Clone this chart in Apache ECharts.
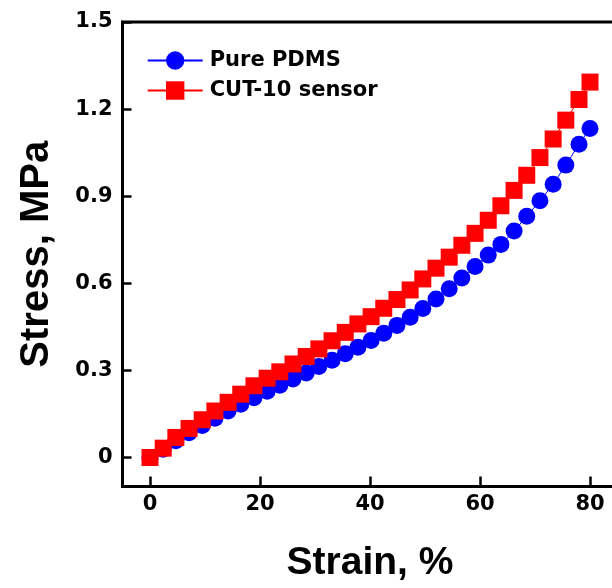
<!DOCTYPE html>
<html>
<head>
<meta charset="utf-8">
<script src="https://cdn.jsdelivr.net/npm/echarts@6/dist/echarts.min.js"></script>
<style>
html,body{margin:0;padding:0;background:#fff;}
#chart{width:612px;height:588px;}
</style>
</head>
<body>
<div id="chart"></div>
<script>
// Strain values (%)
var strain = [0, 2.4, 4.7, 7.1, 9.5, 11.8, 14.2, 16.5, 18.9, 21.3, 23.6, 26, 28.4, 30.7, 33.1, 35.5, 37.8, 40.2, 42.5, 44.9, 47.3, 49.6, 52, 54.4, 56.7, 59.1, 61.5, 63.8, 66.2, 68.5, 70.9, 73.3, 75.6, 78, 80];
// Stress (MPa), Pure PDMS
var pdmsStress = [0, 0.028, 0.058, 0.085, 0.110, 0.135, 0.160, 0.183, 0.206, 0.228, 0.249, 0.270, 0.291, 0.313, 0.335, 0.357, 0.380, 0.403, 0.428, 0.455, 0.483, 0.513, 0.546, 0.581, 0.618, 0.658, 0.697, 0.734, 0.780, 0.831, 0.884, 0.941, 1.007, 1.079, 1.133];
// Stress (MPa), CUT-10 sensor
var cutStress = [0, 0.032, 0.069, 0.100, 0.130, 0.160, 0.190, 0.218, 0.247, 0.273, 0.295, 0.322, 0.348, 0.374, 0.402, 0.431, 0.460, 0.485, 0.514, 0.544, 0.577, 0.615, 0.652, 0.690, 0.731, 0.772, 0.817, 0.867, 0.920, 0.972, 1.033, 1.097, 1.162, 1.233, 1.293];
var seriesNames = ['Pure PDMS', 'CUT-10 sensor'];
var xTicks = [0, 20, 40, 60, 80];
var yTicks = [0, 0.3, 0.6, 0.9, 1.2, 1.5];

var TITLE_FONT = '"Liberation Sans", Arial, sans-serif';
var SMALL_FONT = '"DejaVu Sans", sans-serif';
function pairs(ys){ return strain.map(function(x,i){ return [x, ys[i]]; }); }

var chart = echarts.init(document.getElementById('chart'), null, {renderer:'canvas'});
chart.setOption({
  animation: false,
  backgroundColor: '#fff',
  grid: {left: 122.5, top: 22, width: 495, height: 464.5, outerBoundsMode: 'none', containLabel: false,
         show: true, borderColor: '#000', borderWidth: 3, backgroundColor: 'transparent'},
  legend: {
    left: 146.7, top: 49, orient: 'vertical', padding: 0, itemWidth: 55, itemHeight: 23, itemGap: 7,
    textStyle: {fontFamily: SMALL_FONT, fontWeight: 'bold', fontSize: 21, lineHeight: 23, color: '#000', padding: [0,0,0,2]},
    data: seriesNames
  },
  xAxis: {
    type: 'value', min: -5, max: 85,
    name: 'Strain, %', nameLocation: 'middle', nameGap: 57,
    nameTextStyle: {fontFamily: TITLE_FONT, fontWeight: 'bold', fontSize: 39, color: '#000'},
    axisLine: {show: true, onZero: false, lineStyle: {color: '#000', width: 3}},
    axisTick: {show: true, inside: true, length: 10, lineStyle: {color: '#000', width: 2.5}, customValues: xTicks},
    axisLabel: {fontFamily: SMALL_FONT, fontWeight: 'bold', fontSize: 21, color: '#000', margin: 8, customValues: xTicks},
    splitLine: {show: false}
  },
  yAxis: {
    type: 'value', min: -0.1, max: 1.5,
    name: 'Stress, MPa', nameLocation: 'middle', nameGap: 66, nameRotate: 90,
    nameTextStyle: {fontFamily: TITLE_FONT, fontWeight: 'bold', fontSize: 40, color: '#000'},
    axisLine: {show: true, onZero: false, lineStyle: {color: '#000', width: 3}},
    axisTick: {show: true, inside: true, length: 9, lineStyle: {color: '#000', width: 2.5}, customValues: yTicks},
    axisLabel: {fontFamily: SMALL_FONT, fontWeight: 'bold', fontSize: 21, color: '#000', margin: 10, customValues: yTicks,
      formatter: function(v){ return v === 0 ? '0' : v.toFixed(1); }},
    splitLine: {show: false}
  },
  series: [
    {name: seriesNames[0], type: 'line', data: pairs(pdmsStress), symbol: 'circle', symbolSize: 17,
     itemStyle: {color: '#0000ff'}, lineStyle: {color: '#0000ff', width: 1}, emphasis: {disabled: true}},
    {name: seriesNames[1], type: 'line', data: pairs(cutStress), symbol: 'rect', symbolSize: 17,
     itemStyle: {color: '#ff0000'}, lineStyle: {color: '#ff0000', width: 1}, emphasis: {disabled: true}}
  ]
});
</script>
</body>
</html>
